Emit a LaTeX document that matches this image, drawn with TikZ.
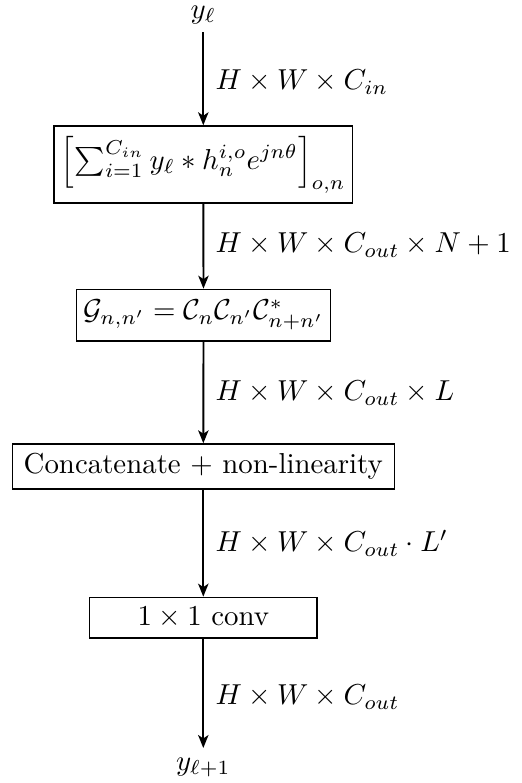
\documentclass[tikz,border=0pt]{standalone}
\usetikzlibrary{arrows.meta}
\begin{document}
\begin{tikzpicture}[x=0.34662pt,y=-0.34662pt,
  blk/.style={draw,line width=0.5pt,inner sep=0pt,align=center},
  flow/.style={line width=0.65pt,-{Stealth[length=4.5pt,width=3.6pt,inset=1.2pt]}},
  dim/.style={anchor=west,inner sep=0pt}]
\useasboundingbox (0,0) rectangle (522,783);
\node[anchor=south,inner sep=2.6pt] (yin) at (203.3,32) {$y_\ell$};
\node[blk,minimum width=103.4pt,minimum height=26.7pt] (b1) at (203.3,164.5)
  {$\left[\sum_{i=1}^{C_{in}} y_\ell * h_n^{i,o} e^{jn\theta}\right]_{o,n}$};
\node[blk,minimum width=88.1pt,minimum height=17.9pt] (b2) at (203.5,315.2)
  {$\mathcal{G}_{n,n'} = \mathcal{C}_n\mathcal{C}_{n'}\mathcal{C}^*_{n+n'}$};
\node[blk,minimum width=132.4pt,minimum height=15.6pt] (b3) at (203.3,466.5)
  {Concatenate + non-linearity};
\node[blk,minimum width=78.8pt,minimum height=14.1pt] (b4) at (203.3,617.7)
  {$1\times 1$ conv};
\node[anchor=north,inner sep=3.33pt] (yout) at (203.3,748) {$y_{\ell+1}$};
\draw[flow] (yin) -- (b1);
\draw[flow] (b1) -- (b2);
\draw[flow] (b2) -- (b3);
\draw[flow] (b3) -- (b4);
\draw[flow] (b4) -- (yout);
\node[dim] (l1) at (215,82) {$H\times W\times C_{in}$};
\node[dim] (l2) at (215,245) {$H\times W\times C_{out}\times N+1$};
\node[dim] (l3) at (215,393) {$H\times W\times C_{out}\times L$};
\node[dim] (l4) at (215,543) {$H\times W\times C_{out}\cdot L'$};
\node[dim] (l5) at (215,697) {$H\times W\times C_{out}$};
\end{tikzpicture}
\end{document}
